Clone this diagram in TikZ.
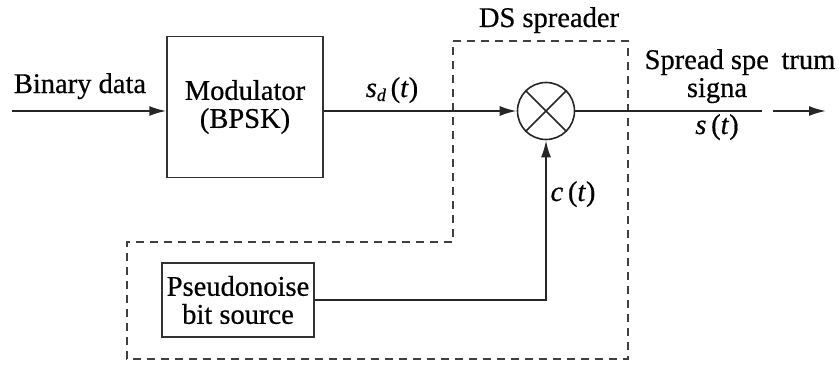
\documentclass[tikz,border=0pt]{standalone}
\usepackage{fontspec}
\setmainfont[FakeBold=0.6]{Liberation Serif}
\usetikzlibrary{arrows.meta}
\newcommand{\subsz}{\fontsize{18}{18}\selectfont}
\begin{document}
\begin{tikzpicture}[x=1pt,y=-1pt,
  every node/.style={font=\fontsize{28.5}{28}\selectfont, inner sep=0pt},
  sig/.style={line width=2pt, draw=black!85},
  arr/.style={sig, -{Latex[length=17pt,width=10pt]}},
  blk/.style={draw=black!80, line width=1.4pt, align=center},
  grp/.style={draw=black!75, line width=1.3pt, dash pattern=on 8pt off 6pt},
  lbl/.style={anchor=base}]
\useasboundingbox (0,0) rectangle (840,369);
% group outline (DS spreader)
\draw[grp] (453,41) -- (628,41) -- (628,359) -- (127,359) -- (127,242) -- (453,242) -- cycle;
% blocks
\node[blk, minimum width=156pt, minimum height=141pt] (mod) at (245,107) {Modulator\\(BPSK)};
\node[blk, minimum width=152pt, minimum height=74pt] (pn) at (238,300) {Pseudonoise\\bit source};
\node[draw=black!85, line width=1.6pt, circle, minimum size=57pt] (mult) at (546,111) {};
\draw[line width=1.5pt, draw=black!85] (mult.north west) -- (mult.south east);
\draw[line width=1.5pt, draw=black!85] (mult.north east) -- (mult.south west);
% free ends
\coordinate (bin) at (12,111);
\coordinate (o1) at (762,111);
\coordinate (o2) at (773,111);
\coordinate (o3) at (826,111);
% connectors
\draw[arr] (bin) -- (bin -| mod.west);
\draw[arr] (mult.west -| mod.east) -- (mult.west);
\draw[sig] (mult.east) -- (o1);
\draw[arr] (o2) -- (o3);
\draw[arr] (pn.east) -| (mult.south);
% labels
\node[lbl] (lbin) at (80,93) {Binary data};
\node[lbl] (lsd) at (392,97) {\textit{s}\raisebox{-4pt}{\subsz\textit{d}}\,(\textit{t})};
\node[lbl] (lds) at (549,27) {DS spreader};
\node[lbl] (lss) at (740,69) {Spread spe\hphantom{c}trum};
\node[lbl] (lsig) at (717,97) {signa};
\node[lbl] (lst) at (717,134) {\textit{s}\,(\textit{t})};
\node[lbl] (lct) at (573,201) {\textit{c}\,(\textit{t})};
\end{tikzpicture}
\end{document}
